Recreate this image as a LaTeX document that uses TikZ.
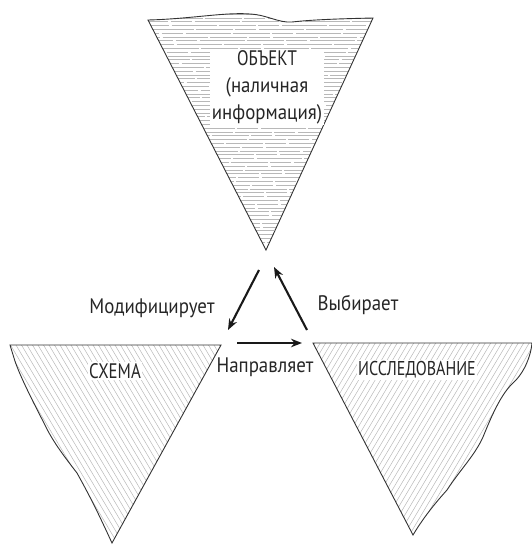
\documentclass[tikz,border=0pt]{standalone}
\usepackage{fontspec}
\setmainfont{PT Sans}
\newfontfamily\capsfont[FakeStretch=0.8]{PT Sans}
\newfontfamily\lowfont[FakeStretch=0.9]{PT Sans}
\usetikzlibrary{arrows.meta}
\tikzset{
  outline/.style={draw=black!80, line width=0.9pt},
  hatch/.style={draw=black!28, line width=0.5pt},
  lbl/.style={text=black!85, font=\lowfont\fontsize{21}{27}\selectfont, inner sep=1.5pt},
  boxlbl/.style={lbl, fill=white, align=center},
  conn/.style={draw=black!90, line width=2.1pt, -{Stealth[length=11pt,width=8.5pt]}}
}
\begin{document}
\begin{tikzpicture}[x=1pt,y=-1pt]
\useasboundingbox (0,0) rectangle (532,547);
% top triangle
\def\toptri{(148,20) .. controls (190,19) and (225,12) .. (250,14) .. controls (268,15) and (278,23) .. (292,22) .. controls (310,20) and (330,19) .. (373,18) -- (266,250) -- cycle}
\begin{scope}
\clip \toptri;
\foreach \y [count=\i] in {14,17.8,...,252} \draw[hatch, dash pattern=on 37pt off 2.5pt on 21pt off 3pt on 45pt off 2pt, dash phase={mod(\i*23,60)}] (140,\y) -- (380,\y);
\end{scope}
\draw[outline] \toptri;
% left triangle
\def\lefttri{(10,345) -- (221,345) -- (112,543) .. controls (100,517) and (92,500) .. (77,473) .. controls (63,455) and (52,440) .. (45,425) .. controls (32,400) and (18,372) .. (14,358) -- cycle}
\begin{scope}
\clip \lefttri;
\foreach \x in {-130,-124.5,...,230} \draw[hatch] (\x,340) -- (\x+125,550);
\end{scope}
\draw[outline] \lefttri;
% right triangle
\def\righttri{(313,343) -- (532,343) .. controls (531,355) and (525,372) .. (513,383) .. controls (500,395) and (490,420) .. (483,437) .. controls (475,455) and (460,470) .. (447,490) .. controls (438,500) and (425,515) .. (413,535) -- cycle}
\begin{scope}
\clip \righttri;
\foreach \x in {300,305.5,...,680} \draw[hatch] (\x,340) -- (\x-125,550);
\end{scope}
\draw[outline] \righttri;
% labels in triangles
\node[boxlbl] (obj) at (267,87) {{\capsfont ОБЪЕКТ}\\(наличная\\информация)};
\node[boxlbl, font=\capsfont\fontsize{21}{27}\selectfont] (schema) at (115,371) {СХЕМА};
\node[boxlbl, font=\capsfont\fontsize{20}{27}\selectfont] (study) at (417,370) {ИССЛЕДОВАНИЕ};
% arrows
\coordinate (m1) at (259,270);
\coordinate (m2) at (228,330);
\coordinate (n1) at (237,343);
\coordinate (n2) at (302,343);
\coordinate (v1) at (307,330);
\coordinate (v2) at (274,267);
\draw[conn] (m1) -- (m2);
\draw[conn] (n1) -- (n2);
\draw[conn] (v1) -- (v2);
\node[lbl] (mod) at (152,308) {Модифицирует};
\node[lbl] (vyb) at (358,305) {Выбирает};
\node[lbl] (nap) at (265,367) {Направляет};
\end{tikzpicture}
\end{document}
